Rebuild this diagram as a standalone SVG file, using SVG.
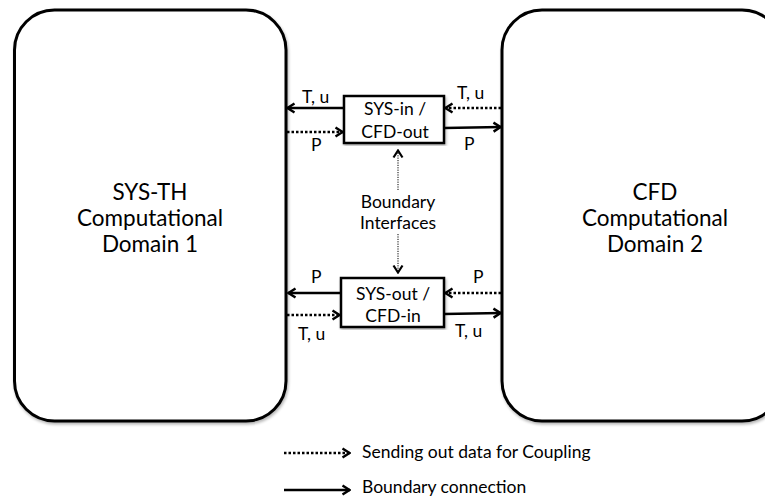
<svg xmlns="http://www.w3.org/2000/svg" width="765" height="498" viewBox="0 0 765 498">
<defs>
<filter id="sh" x="-5%" y="-5%" width="110%" height="110%">
<feGaussianBlur in="SourceAlpha" stdDeviation="1.5"/>
<feOffset dx="1" dy="2" result="b"/>
<feComponentTransfer><feFuncA type="linear" slope="0.3"/></feComponentTransfer>
<feMerge><feMergeNode/><feMergeNode in="SourceGraphic"/></feMerge>
</filter>
<marker id="ah" viewBox="0 0 10 12" refX="9" refY="6" markerWidth="10" markerHeight="12" markerUnits="userSpaceOnUse" orient="auto">
<path d="M1.5,1.5 L8.5,6 L1.5,10.5" fill="none" stroke="#000" stroke-width="2.5"/>
</marker>
<marker id="ahs" viewBox="0 0 10 12" refX="9" refY="6" markerWidth="10" markerHeight="12" markerUnits="userSpaceOnUse" orient="auto">
<path d="M1.5,1.5 L8.5,6 L1.5,10.5" fill="none" stroke="#000" stroke-width="2.2"/>
</marker>
</defs>
<style>
.dom{fill:#fff;stroke:#000;stroke-width:3}
.ifc{fill:#fff;stroke:#000;stroke-width:2.5}
.solid{stroke:#000;stroke-width:2.5;fill:none;marker-end:url(#ah)}
.dot{stroke:#000;stroke-width:2.5;fill:none;stroke-dasharray:2.5 2;marker-end:url(#ah)}
.thin{stroke:#000;stroke-width:1;fill:none;stroke-dasharray:1.2 1.2;marker-end:url(#ahs)}
text{font-family:Lato,"Open Sans","Liberation Sans",sans-serif;fill:#000}
.big{font-size:22.5px;text-anchor:middle}
.mid{font-size:17.5px;text-anchor:middle}
.lab{font-size:17.5px}
.leg{font-size:17.5px}
</style>
<g id="domain1">
<rect class="dom" x="14.5" y="10" width="271.5" height="411" rx="40" ry="40" filter="url(#sh)"/>
<text class="big" x="150" y="200">SYS-TH</text>
<text class="big" x="150" y="226">Computational</text>
<text class="big" x="150" y="252">Domain 1</text>
</g>
<g id="domain2">
<rect class="dom" x="502" y="10" width="280" height="411" rx="40" ry="40" filter="url(#sh)"/>
<text class="big" x="655" y="200">CFD</text>
<text class="big" x="655" y="226">Computational</text>
<text class="big" x="655" y="252">Domain 2</text>
</g>
<g id="sysin">
<rect class="ifc" x="344" y="96" width="100" height="47" filter="url(#sh)"/>
<text class="mid" x="395" y="115">SYS-in /</text>
<text class="mid" x="395" y="138">CFD-out</text>
</g>
<g id="sysout">
<rect class="ifc" x="341" y="278" width="103" height="49" filter="url(#sh)"/>
<text class="mid" x="393" y="300">SYS-out /</text>
<text class="mid" x="393" y="322">CFD-in</text>
</g>
<g id="bi">
<text class="mid" x="398" y="208">Boundary</text>
<text class="mid" x="398" y="229">Interfaces</text>
</g>
<g id="connectors">
<line class="solid" x1="344" y1="108" x2="287" y2="108"/>
<line class="dot" x1="287" y1="132" x2="343" y2="132"/>
<line class="dot" x1="501" y1="108" x2="445" y2="108"/>
<line class="solid" x1="444" y1="128" x2="501" y2="127"/>
<line class="solid" x1="341" y1="293" x2="288" y2="293"/>
<line class="dot" x1="287" y1="315" x2="340" y2="315"/>
<line class="dot" x1="501" y1="293" x2="445" y2="293"/>
<line class="solid" x1="444" y1="314" x2="501" y2="313"/>
<line class="thin" x1="398" y1="190" x2="398" y2="150"/>
<line class="thin" x1="398" y1="234" x2="398" y2="273"/>
<text class="lab" x="302" y="103">T, u</text>
<text class="lab" x="311" y="151">P</text>
<text class="lab" x="457" y="99">T, u</text>
<text class="lab" x="464" y="150">P</text>
<text class="lab" x="311" y="283">P</text>
<text class="lab" x="298" y="340">T, u</text>
<text class="lab" x="473" y="283">P</text>
<text class="lab" x="455" y="337">T, u</text>
</g>
<g id="legend">
<line class="dot" x1="284" y1="453" x2="350" y2="453"/>
<text class="leg" x="362" y="458">Sending out data for Coupling</text>
<line class="solid" x1="284" y1="490" x2="350" y2="490"/>
<text class="leg" x="362" y="493">Boundary connection</text>
</g>
</svg>
